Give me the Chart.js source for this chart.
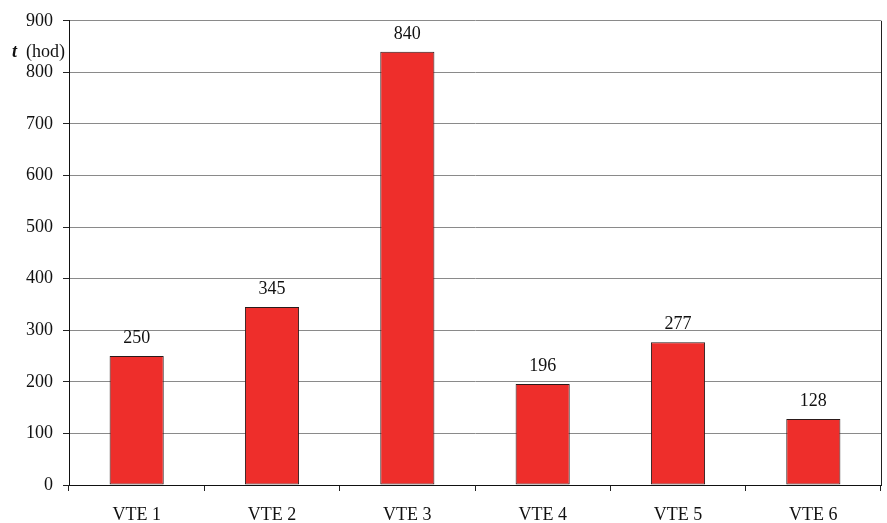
<!DOCTYPE html>
<html>
<head>
<meta charset="utf-8">
<script src="https://cdn.jsdelivr.net/npm/chart.js@4/dist/chart.umd.min.js"></script>
<style>
    html, body { margin: 0; padding: 0; background: #fff; }
    #wrap { width: 887px; height: 523px; }
</style>
</head>
<body>
<div id="wrap"><canvas id="hoursChart"></canvas></div>
<script>
    // Hours per unit
    const categories = ['VTE 1', 'VTE 2', 'VTE 3', 'VTE 4', 'VTE 5', 'VTE 6'];
    const hours = [250, 345, 840, 196, 277, 128];
    const yTicks = [0, 100, 200, 300, 400, 500, 600, 700, 800, 900];

    const serif = '"Liberation Serif", "Times New Roman", serif';

    // Value labels above bars, axis unit label and right frame line
    const extras = {
        id: 'extras',
        afterDatasetsDraw(chart) {
            const ctx = chart.ctx;
            const meta = chart.getDatasetMeta(0);
            ctx.save();
            ctx.fillStyle = '#111';
            ctx.font = '18px ' + serif;
            ctx.textAlign = 'center';
            ctx.textBaseline = 'alphabetic';
            meta.data.forEach((bar, i) => {
                ctx.fillText(String(hours[i]), bar.x, bar.y - 13);
            });

            // right edge of the plot
            const a = chart.chartArea;
            ctx.strokeStyle = '#222';
            ctx.lineWidth = 1;
            ctx.beginPath();
            ctx.moveTo(a.right + 0.5, a.top);
            ctx.lineTo(a.right + 0.5, a.bottom);
            ctx.stroke();

            // unit label "t (hod)"
            const y = chart.scales.y.getPixelForValue(850) + 10;
            ctx.textAlign = 'left';
            ctx.font = 'bold italic 18px ' + serif;
            ctx.fillText('t', 12, y);
            ctx.font = '18px ' + serif;
            ctx.fillText('(hod)', 26, y);
            ctx.restore();
        }
    };

    const chart = new Chart(document.getElementById('hoursChart'), {
        type: 'bar',
        data: {
            labels: categories,
            datasets: [{
                data: hours,
                backgroundColor: '#EE2E2B',
                borderColor: '#2a1a1a',
                borderWidth: 1,
                borderSkipped: false,
                barPercentage: 0.8,
                categoryPercentage: 0.5
            }]
        },
        options: {
            responsive: true,
            maintainAspectRatio: false,
            animation: false,
            layout: {
                padding: { top: 18, right: 6, bottom: 0, left: 0 }
            },
            scales: {
                x: {
                    offset: true,
                    afterFit(scale) { scale.height = 38; },
                    grid: {
                        offset: true,
                        drawOnChartArea: false,
                        tickLength: 6,
                        tickColor: '#222'
                    },
                    border: { color: '#111', width: 1 },
                    ticks: {
                        color: '#111',
                        padding: 13,
                        font: { family: serif, size: 18 }
                    }
                },
                y: {
                    min: 0,
                    max: 900,
                    afterFit(scale) { scale.width = 69; },
                    afterBuildTicks(scale) {
                        scale.ticks = yTicks.map(v => ({ value: v }));
                    },
                    grid: {
                        color: c => (c.tick && c.tick.value === 0) ? '#111' : '#8a8a8a',
                        tickLength: 6,
                        tickColor: '#222'
                    },
                    border: { color: '#111', width: 1 },
                    ticks: {
                        color: '#111',
                        padding: 10,
                        font: { family: serif, size: 18 }
                    }
                }
            },
            plugins: {
                legend: { display: false },
                tooltip: { enabled: false }
            }
        },
        plugins: [extras]
    });
</script>
</body>
</html>
